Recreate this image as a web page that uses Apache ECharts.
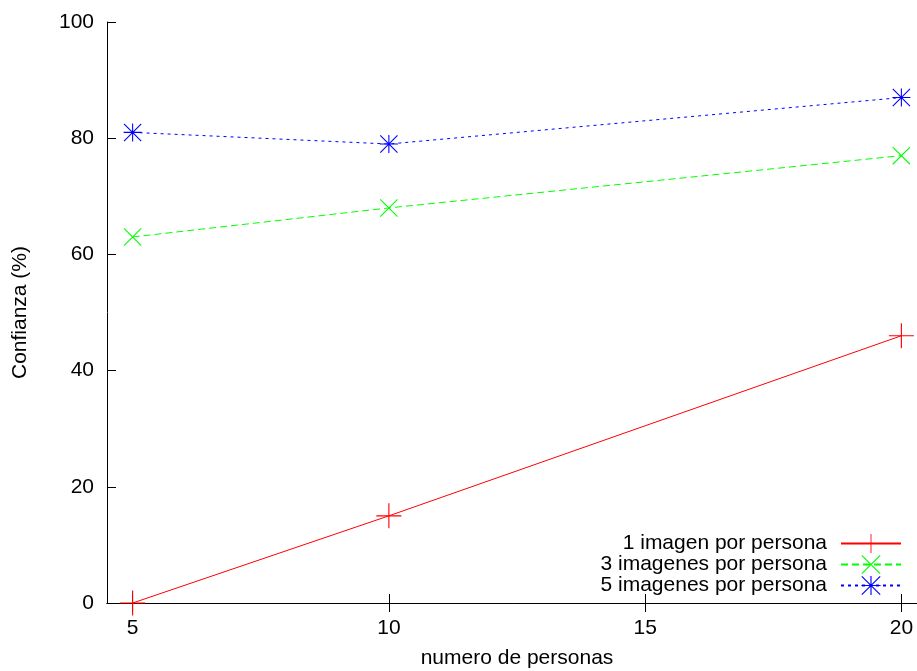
<!DOCTYPE html>
<html>
<head>
<meta charset="utf-8">
<script src="https://cdn.jsdelivr.net/npm/echarts@6/dist/echarts.min.js"></script>
<style>html,body{margin:0;padding:0;background:#fff;}#c{width:917px;height:671px;}</style>
</head>
<body>
<div id="c"></div>
<script>
const xValues = [5, 10, 20];
const seriesNames = ['1 imagen por persona', '3 imagenes por persona', '5 imagenes por persona'];
const series1 = [0, 15, 46];
const series3 = [63, 68, 77];
const series5 = [81, 79, 87];
const xTicks = [5, 10, 15, 20];
const yTicks = [0, 20, 40, 60, 80, 100];
const xTitle = 'numero de personas';
const yTitle = 'Confianza (%)';

const FONT = 'Liberation Sans';
const FS = 21;
const COLORS = ['#ff0000', '#00ff00', '#0000ff'];
const DASHES = ['solid', [7, 4], [3, 4]];
// filled thin-stroke marker shapes (gnuplot +, x, *)
function plusD(h) {
  return 'M-1,' + (-h) + 'L1,' + (-h) + 'L1,' + h + 'L-1,' + h + 'Z' +
         'M' + (-h) + ',-1L' + h + ',-1L' + h + ',1L' + (-h) + ',1Z';
}
function crossD(t) {
  return 'M' + (-1 + t) + ',-1L1,' + (1 - t) + 'L' + (1 - t) + ',1L-1,' + (-1 + t) + 'Z' +
         'M' + (1 - t) + ',-1L1,' + (-1 + t) + 'L' + (-1 + t) + ',1L-1,' + (1 - t) + 'Z';
}
const plusPath = 'path://' + plusD(0.045);
const crossPath = 'path://' + crossD(0.085);
const starPath = 'path://' + plusD(0.06) + crossD(0.085);

function mk(name, vals, color, sym, size, dash) {
  return {
    name: name, type: 'line',
    data: xValues.map((x, i) => [x, vals[i]]),
    symbol: sym, symbolSize: size, clip: false,
    lineStyle: {color: color, width: 1, type: dash},
    itemStyle: {color: color, borderColor: color, borderWidth: 0},
    emphasis: {disabled: true},
    animation: false
  };
}

const chart = echarts.init(document.getElementById('c'), null, {renderer: 'canvas'});
chart.setOption({
  animation: false,
  backgroundColor: '#fff',
  grid: {left: 107, right: -10, top: 22, bottom: 68, containLabel: false, outerBoundsMode: 'none'},
  legend: {
    orient: 'vertical', align: 'right', right: 15, top: 533, padding: 0,
    itemWidth: 60, itemHeight: 24, itemGap: 0,
    itemStyle: {borderWidth: 0},
    textStyle: {fontFamily: FONT, fontSize: FS, color: '#000', padding: [0, 9, 0, 0]},
    data: seriesNames
  },
  xAxis: [{
    type: 'value', min: 4.5, max: 20.5, position: 'bottom',
    name: xTitle, nameLocation: 'middle', nameGap: 45,
    nameTextStyle: {fontFamily: FONT, fontSize: FS, color: '#000'},
    axisLine: {show: true, onZero: false, lineStyle: {color: '#000', width: 1}},
    axisTick: {show: true, inside: true, length: 9, customValues: xTicks, lineStyle: {color: '#000'}},
    axisLabel: {customValues: xTicks, margin: 15, fontFamily: FONT, fontSize: FS, color: '#000'},
    splitLine: {show: false}
  }, {
    type: 'value', min: 4.5, max: 20.5, position: 'top',
    axisLine: {show: true, lineStyle: {color: '#000', width: 1}},
    axisTick: {show: true, inside: true, length: 9, customValues: xTicks, lineStyle: {color: '#000'}},
    axisLabel: {show: false},
    splitLine: {show: false}
  }],
  yAxis: [{
    type: 'value', min: 0, max: 100, interval: 20,
    name: yTitle, nameLocation: 'middle', nameGap: 76, nameRotate: 90,
    nameTextStyle: {fontFamily: FONT, fontSize: FS, color: '#000'},
    axisLine: {show: true, lineStyle: {color: '#000', width: 1}},
    axisTick: {show: true, inside: true, length: 9, lineStyle: {color: '#000'}},
    axisLabel: {margin: 13, fontFamily: FONT, fontSize: FS, color: '#000'},
    splitLine: {show: false}
  }],
  series: [
    mk(seriesNames[0], series1, COLORS[0], plusPath, 25, DASHES[0]),
    mk(seriesNames[1], series3, COLORS[1], crossPath, 18, DASHES[1]),
    mk(seriesNames[2], series5, COLORS[2], starPath, 18, DASHES[2])
  ]
});
</script>
</body>
</html>
